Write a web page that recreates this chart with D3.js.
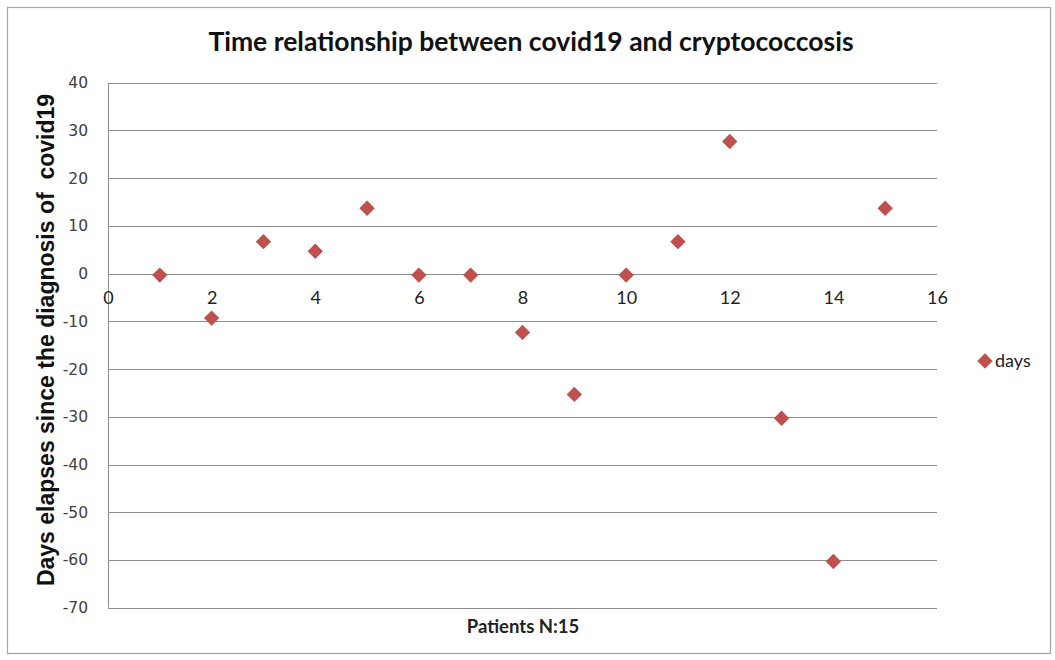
<!DOCTYPE html>
<html><head><meta charset="utf-8">
<script src="https://cdn.jsdelivr.net/npm/d3@7"></script>
<style>html,body{margin:0;padding:0;background:#fff;}</style>
</head><body>
<script>
const patients = [1,2,3,4,5,6,7,8,9,10,11,12,13,14,15];
const days = [0,-9,7,5,14,0,0,-12,-25,0,7,28,-30,-60,14];
const xTicks = [0,2,4,6,8,10,12,14,16];
const yTicks = [40,30,20,10,0,-10,-20,-30,-40,-50,-60,-70];
const titleText = "Time relationship between covid19 and cryptococcosis";
const yTitle = "Days elapses since the diagnosis of  covid19";
const xTitle = "Patients N:15";
const seriesName = "days";

const W = 1055, H = 660;
const svg = d3.select("body").append("svg").attr("width", W).attr("height", H);
svg.append("rect").attr("x",7.5).attr("y",7.5).attr("width",1043).attr("height",646)
  .attr("fill","#fff").attr("stroke","#a6a6a6").attr("stroke-width",1.2);

const L = 108, R = 937, T = 82.7, B = 607.7;
const x = d3.scaleLinear().domain([0,16]).range([L,R]);
const y = d3.scaleLinear().domain([-70,40]).range([B,T]);

// gridlines
svg.append("g").selectAll("line").data(yTicks).join("line")
  .attr("x1",L).attr("x2",R).attr("y1",d=>Math.round(y(d))+0.5).attr("y2",d=>Math.round(y(d))+0.5)
  .attr("stroke","#8c8c8c").attr("stroke-width",1);
// vertical axis line
svg.append("line").attr("x1",L+0.5).attr("x2",L+0.5).attr("y1",y(40)).attr("y2",y(-70))
  .attr("stroke","#8c8c8c").attr("stroke-width",1);

// y tick labels
const yAxis = d3.axisLeft(y).tickValues(yTicks).tickSize(0).tickPadding(20).tickFormat(d=>String(d));
const gy = svg.append("g").attr("transform",`translate(${L},0)`).call(yAxis);
gy.select(".domain").remove();
gy.selectAll("text").attr("font-family","DejaVu Sans, Verdana, sans-serif").attr("font-size",15.5).attr("fill","#404040");

// x tick labels at y=0
const xAxis = d3.axisBottom(x).tickValues(xTicks).tickSize(0).tickPadding(18).tickFormat(d=>String(d));
const gx = svg.append("g").attr("transform",`translate(0,${y(0)})`).call(xAxis);
gx.select(".domain").remove();
gx.selectAll("text").attr("font-family","Lato, sans-serif").attr("font-size",18).attr("fill","#222");

// points
const diamond = d3.symbol().type(d3.symbolDiamond2).size(150);
svg.append("g").selectAll("path").data(patients.map((p,i)=>({p,v:days[i]}))).join("path")
  .attr("d",diamond).attr("transform",d=>`translate(${x(d.p)},${y(d.v)+1.5})`)
  .attr("fill","#c0504d");

// title
svg.append("text").attr("x",531).attr("y",51).attr("text-anchor","middle")
  .attr("font-family","Lato, sans-serif").attr("font-weight","bold").attr("font-size",26.5)
  .attr("fill","#111").text(titleText);

// y title
svg.append("text").attr("transform","translate(54,340) rotate(-90)").attr("text-anchor","middle")
  .attr("font-family","Liberation Sans, Arial, sans-serif").attr("font-weight","bold").attr("font-size",23)
  .attr("fill","#111").style("white-space","pre").text(yTitle);

// x title
svg.append("text").attr("x",523).attr("y",633).attr("text-anchor","middle")
  .attr("font-family","Lato, sans-serif").attr("font-weight","bold").attr("font-size",18.5)
  .attr("fill","#222").text(xTitle);

// legend
svg.append("path").attr("d",diamond).attr("transform","translate(985,361)").attr("fill","#c0504d");
svg.append("text").attr("x",995).attr("y",367).attr("font-family","Lato, sans-serif").attr("font-size",18)
  .attr("fill","#222").text(seriesName);
</script>
</body></html>
